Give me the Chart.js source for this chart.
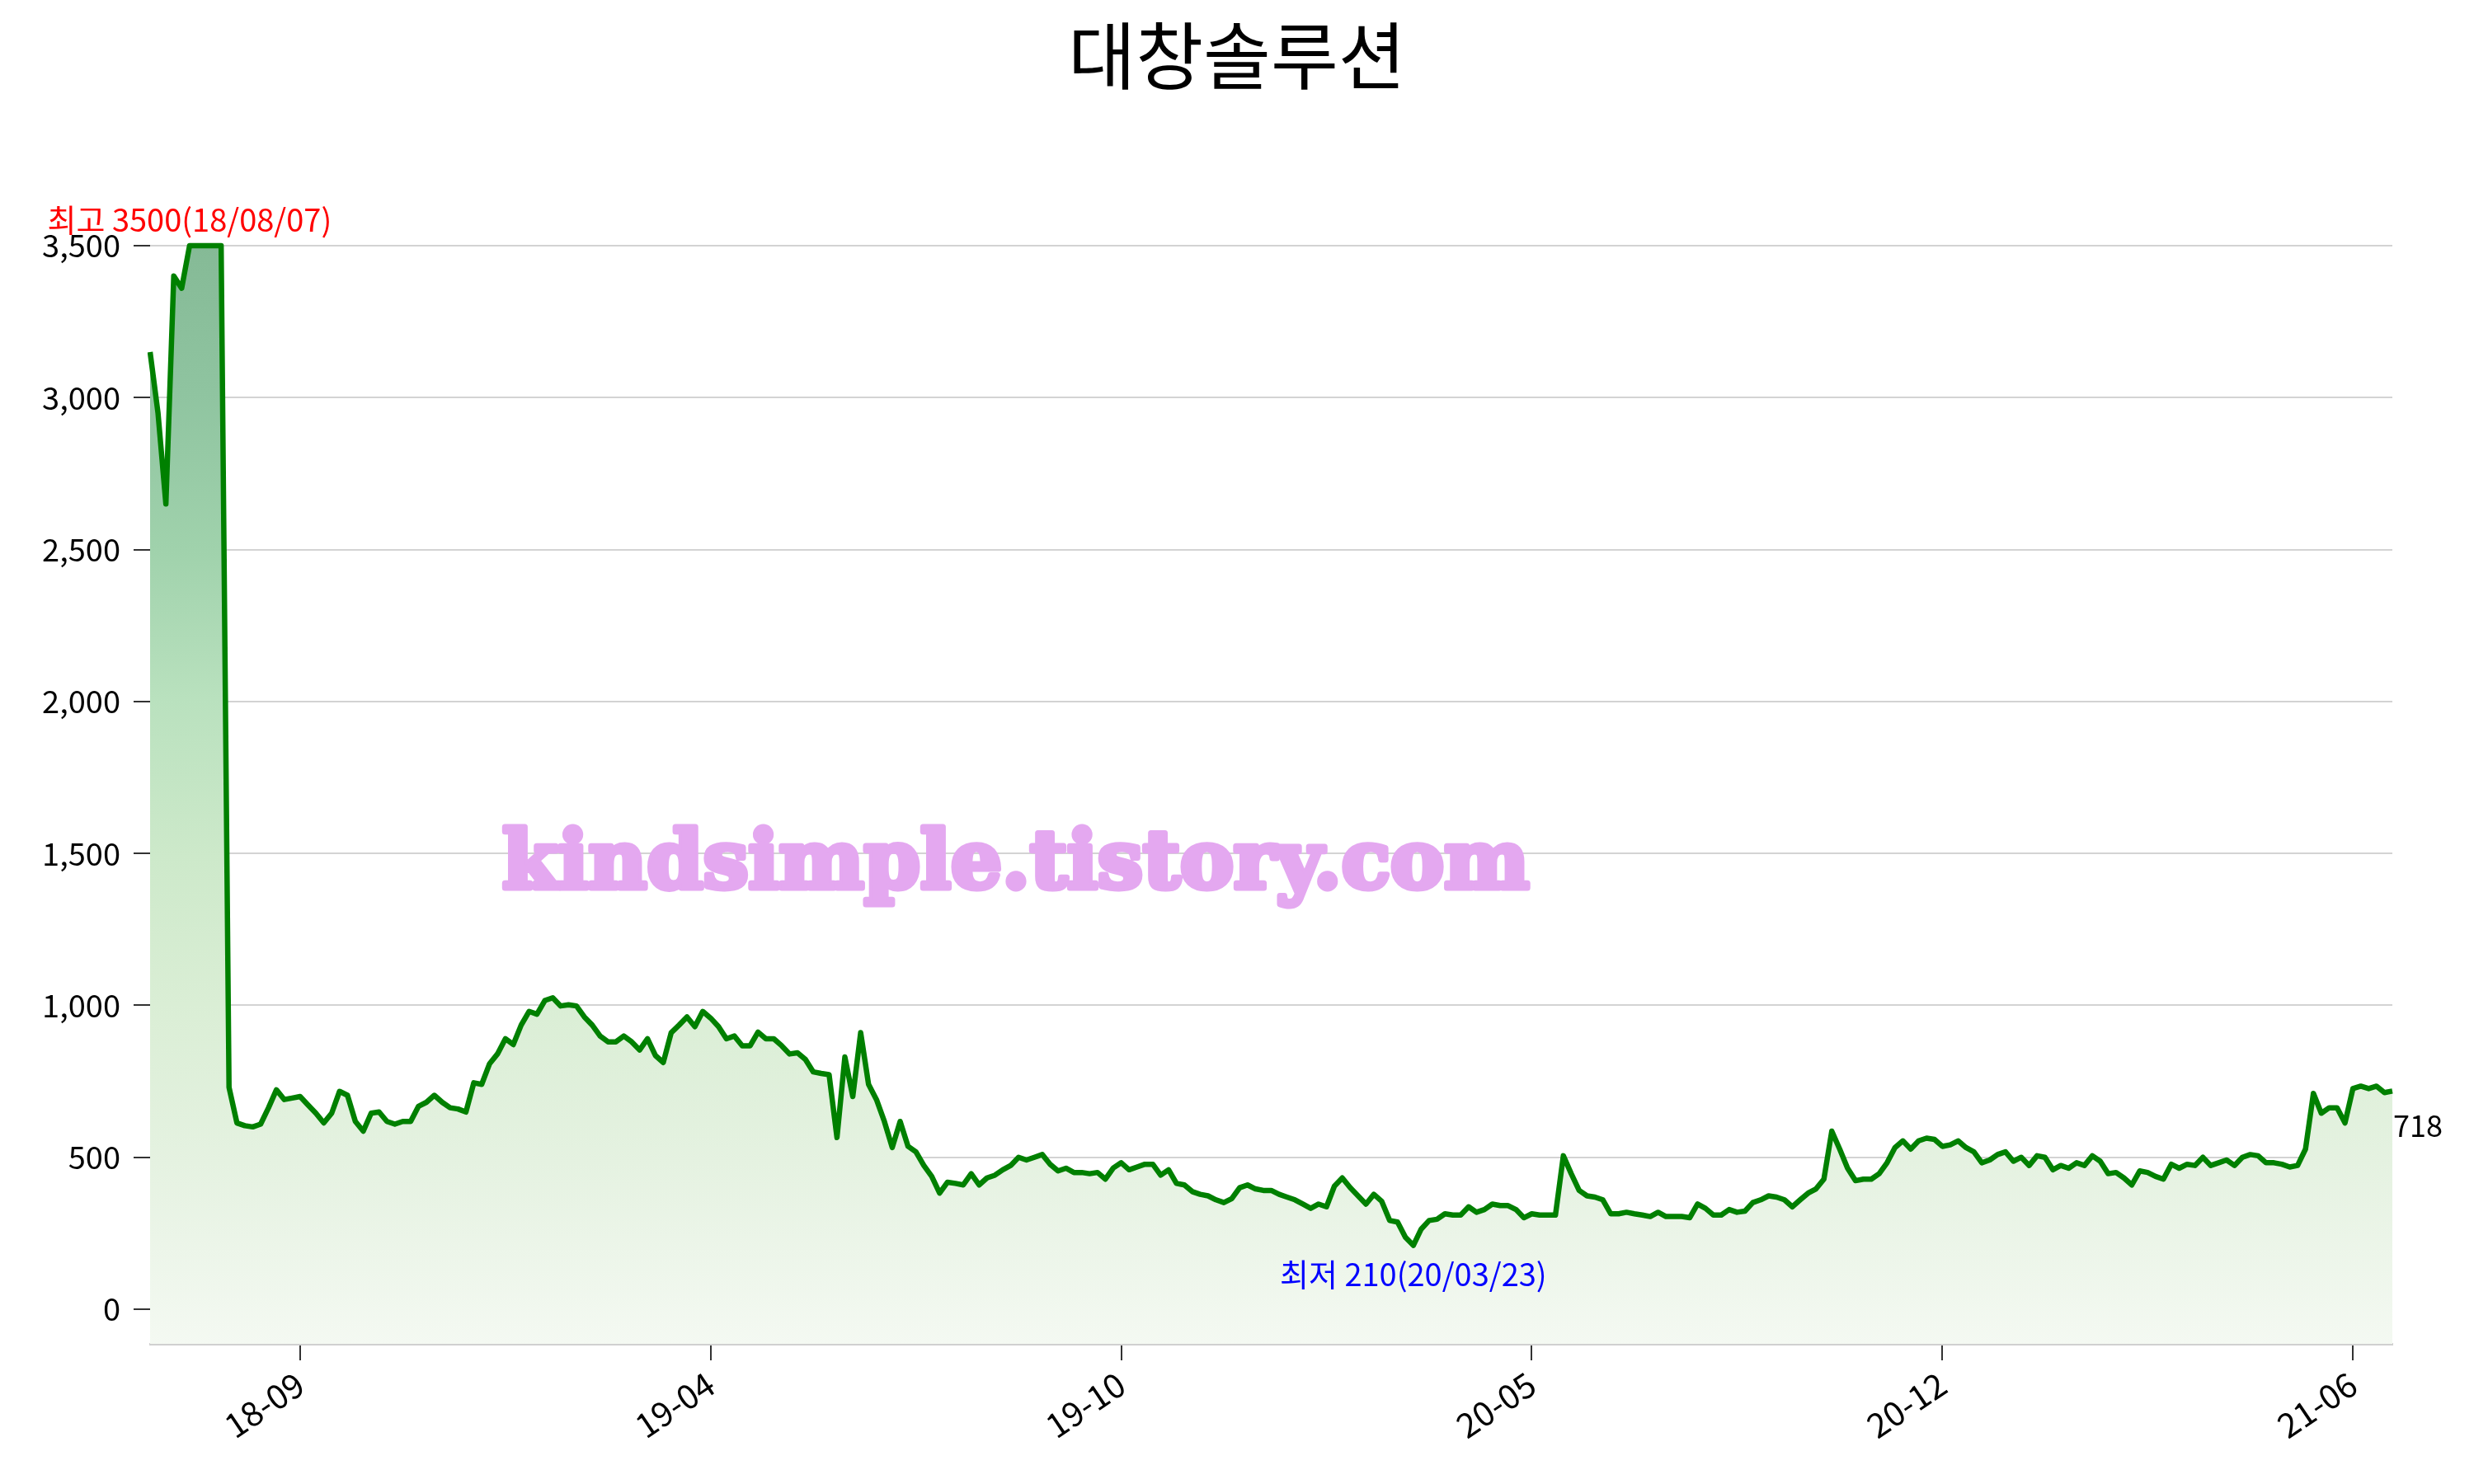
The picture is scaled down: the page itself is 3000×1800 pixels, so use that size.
<!DOCTYPE html>
<html>
<head>
<meta charset="utf-8">
<script src="https://cdn.jsdelivr.net/npm/chart.js@4.4.1/dist/chart.umd.min.js"></script>
<style>
  html, body { margin: 0; padding: 0; background: #fff; }
</style>
</head>
<body>
<canvas id="chart" width="3000" height="1800"></canvas>
<script>
const chartTitle = '대창솔루션';

// 종가 (약 2.5 거래일 간격으로 읽은 값)
const prices = [
  3150, 2950, 2650, 3400, 3360, 3500, 3500, 3500, 3500, 3500, 730,
  613, 604, 600, 609, 663, 722, 690, 695, 700, 672,
  645, 613, 645, 717, 704, 618, 586, 645, 649, 618,
  609, 618, 618, 668, 681, 704, 681, 663, 659, 649,
  745, 740, 808, 840, 890, 871, 935, 980, 971, 1016,
  1025, 998, 1002, 998, 962, 935, 899, 880, 880, 899,
  880, 853, 890, 835, 812, 910,
  935, 962, 930, 980, 958, 930, 890, 899, 867, 867,
  912, 890, 890, 867, 840, 844, 822, 781, 776, 772,
  565, 830, 700, 910, 740, 690, 618, 532, 618, 536,
  518, 473, 437, 382, 418, 414, 409, 446, 409, 432,
  441, 459, 473, 500, 491, 500, 509, 477, 455, 464,
  450, 450, 446, 450, 428, 465, 482, 459, 468, 477,
  477, 441, 459, 414, 409, 387, 378, 373, 360, 351,
  364, 400, 409, 396, 391, 391, 378, 369, 360, 346,
  332, 346, 337, 405, 432, 400, 373, 346, 378, 355,
  292, 287, 237, 210, 264, 292, 296, 314, 310, 310,
  337, 319, 328, 346, 341, 341, 328, 301, 314, 310,
  310, 310, 505, 446, 391, 373, 369, 360, 314, 314,
  319, 314, 310, 305, 319, 305, 305, 305, 301, 346,
  332, 310, 310, 328, 319, 323, 351, 360, 373, 369,
  360, 337, 360, 382, 396, 428, 586, 527, 464, 423,
  428, 428, 446, 482, 532, 554, 527, 554, 563, 559,
  536, 541, 554, 532, 518, 482, 491, 509, 518, 487,
  500, 473, 505, 500, 459, 473, 464, 482, 473, 505,
  487, 446, 450, 432, 409, 455, 450, 437, 428, 477,
  464, 477, 473, 500, 473, 482, 491, 473, 500, 509,
  505, 482, 482, 477, 468, 473, 527, 710, 645, 663,
  663, 613, 726, 734, 726, 734, 713, 718
];

const tickLabels = ['18-09', '19-04', '19-10', '20-05', '20-12', '21-06'];
const firstTick = 19;
const tickStep = 52;
const yTicks = [0, 500, 1000, 1500, 2000, 2500, 3000, 3500];

const highText = '최고 3500(18/08/07)';
const highIndex = 5;
const lowText = '최저 210(20/03/23)';
const lowIndex = 160;
const watermark = 'kindsimple.tistory.com';

const labels = prices.map((p, i) => {
  const k = (i - firstTick) / tickStep;
  return (Number.isInteger(k) && k >= 0 && k < tickLabels.length) ? tickLabels[k] : '';
});

const FONT = '"Noto Sans CJK KR", "Noto Sans", sans-serif';

const annotations = {
  id: 'annotations',
  afterDraw(chart) {
    const ctx = chart.ctx;
    const x = chart.scales.x, y = chart.scales.y;
    ctx.save();

    // title, centred on the whole canvas
    ctx.font = '89px ' + FONT;
    ctx.fillStyle = '#000';
    ctx.textAlign = 'center';
    ctx.textBaseline = 'middle';
    ctx.fillText(chartTitle, chart.width / 2, 67);

    // watermark
    ctx.font = 'bold 100px "DejaVu Serif"';
    const w = ctx.measureText(watermark).width;
    ctx.font = 'bold ' + (100 * 1245 / w).toFixed(1) + 'px "DejaVu Serif"';
    ctx.fillStyle = 'rgb(228,168,240)';
    ctx.strokeStyle = 'rgb(228,168,240)';
    ctx.lineWidth = 7;
    ctx.lineJoin = 'round';
    ctx.textAlign = 'left';
    ctx.textBaseline = 'alphabetic';
    ctx.strokeText(watermark, 609, 1077);
    ctx.fillText(watermark, 609, 1077);

    ctx.font = '38px ' + FONT;
    ctx.textAlign = 'center';

    ctx.fillStyle = '#ff0000';
    ctx.textBaseline = 'bottom';
    ctx.fillText(highText, x.getPixelForValue(highIndex), y.getPixelForValue(prices[highIndex]) - 12);

    ctx.fillStyle = '#0000ff';
    ctx.textBaseline = 'top';
    ctx.fillText(lowText, x.getPixelForValue(lowIndex), y.getPixelForValue(prices[lowIndex]) + 16);

    const last = prices.length - 1;
    ctx.fillStyle = '#000';
    ctx.font = '36px ' + FONT;
    ctx.textAlign = 'left';
    ctx.textBaseline = 'middle';
    ctx.fillText(String(prices[last]), x.getPixelForValue(last) + 1, y.getPixelForValue(prices[last]) + 42);

    ctx.restore();
  }
};

new Chart(document.getElementById('chart'), {
  type: 'line',
  data: {
    labels: labels,
    datasets: [{
      data: prices,
      borderColor: '#008000',
      borderWidth: 6.5,
      borderJoinStyle: 'round',
      pointRadius: 0,
      tension: 0,
      fill: 'start',
      backgroundColor: (c) => {
        const area = c.chart.chartArea;
        if (!area) return 'rgba(0,128,0,0.1)';
        const g = c.chart.ctx.createLinearGradient(0, area.top, 0, area.bottom);
        g.addColorStop(0.00, 'rgb(130,183,147)');
        g.addColorStop(0.03, 'rgb(133,186,150)');
        g.addColorStop(0.16, 'rgb(143,196,160)');
        g.addColorStop(0.30, 'rgb(160,210,172)');
        g.addColorStop(0.43, 'rgb(185,225,190)');
        g.addColorStop(0.57, 'rgb(205,233,202)');
        g.addColorStop(0.70, 'rgb(218,238,213)');
        g.addColorStop(0.84, 'rgb(229,242,225)');
        g.addColorStop(1.00, 'rgb(244,249,242)');
        return g;
      }
    }]
  },
  options: {
    responsive: false,
    animation: false,
    devicePixelRatio: 1,
    layout: { padding: { left: 0, right: 99, top: 256, bottom: 0 } },
    plugins: {
      legend: { display: false },
      tooltip: { enabled: false },
      title: { display: false }
    },
    scales: {
      x: {
        type: 'category',
        afterBuildTicks: (s) => {
          s.ticks = s.ticks.filter(t => labels[t.value] !== '');
        },
        afterFit: (s) => { s.height = 170; },
        grid: {
          drawOnChartArea: false,
          drawTicks: true,
          tickLength: 20,
          tickColor: '#333',
          lineWidth: 2
        },
        border: { display: true, color: '#d0d0d0', width: 3 },
        ticks: {
          autoSkip: false,
          maxRotation: 34,
          minRotation: 34,
          color: '#000',
          padding: 4,
          font: { family: FONT, size: 41 }
        }
      },
      y: {
        min: -114,
        max: 3614,
        afterBuildTicks: (s) => {
          s.ticks = yTicks.map(v => ({ value: v }));
        },
        afterFit: (s) => { s.width = 182; },
        grid: {
          color: '#d3d3d3',
          lineWidth: 2,
          tickLength: 20,
          tickColor: '#333'
        },
        border: { display: false },
        ticks: {
          color: '#000',
          padding: 16,
          font: { family: FONT, size: 38 },
          callback: (v) => v.toLocaleString('en-US')
        }
      }
    }
  },
  plugins: [annotations]
});
</script>
</body>
</html>
